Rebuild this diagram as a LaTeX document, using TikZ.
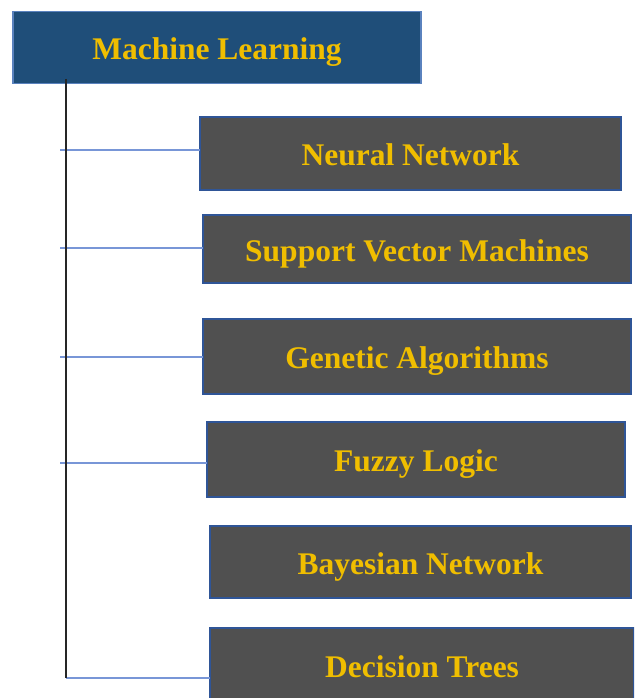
\documentclass[tikz,border=0pt]{standalone}
\usepackage{fontspec}
\setmainfont{Liberation Serif}
\definecolor{mlblue}{RGB}{31,78,121}
\definecolor{mledge}{RGB}{90,130,190}
\definecolor{boxgrey}{RGB}{80,80,80}
\definecolor{boxedge}{RGB}{47,85,151}
\definecolor{gold}{RGB}{240,190,0}
\definecolor{connblue}{RGB}{120,150,215}
\tikzset{
  lbl/.style={text=gold, font=\fontsize{31.5}{36}\selectfont\bfseries, inner sep=0pt, outer sep=0pt, text height=24pt, text depth=0pt},
  rootbox/.style={lbl, rectangle, fill=mlblue, draw=mledge, line width=1.2pt},
  leafbox/.style={lbl, rectangle, fill=boxgrey, draw=boxedge, line width=2.6pt},
  conn/.style={draw=connblue, line width=1.8pt},
  trunk/.style={draw=black!85, line width=1.6pt}
}
\begin{document}
\begin{tikzpicture}[x=1pt,y=-1pt]
\useasboundingbox (0,0) rectangle (634,698);
\clip (0,0) rectangle (634,698);
\fill[white] (0,0) rectangle (634,698);

\node[rootbox, minimum width=408pt, minimum height=72pt] (ml) at (217,47.5) {Machine Learning};

\node[leafbox, minimum width=421pt, minimum height=73pt] (nn) at (410.5,153.5) {Neural Network};
\node[leafbox, minimum width=428pt, minimum height=68pt] (svm) at (417,249) {Support Vector Machines};
\node[leafbox, minimum width=428pt, minimum height=75pt] (ga) at (417,356.5) {Genetic Algorithms};
\node[leafbox, minimum width=418pt, minimum height=75pt] (fl) at (416,459.5) {Fuzzy Logic};
\node[leafbox, minimum width=421pt, minimum height=72pt] (bn) at (420.5,562) {Bayesian Network};
\node[leafbox, minimum width=424pt, minimum height=74pt] (dt) at (422,665) {Decision Trees};

\coordinate (top) at (66,79);
\coordinate (bot) at (66,678);
\coordinate (j1) at (60,150);
\coordinate (j2) at (60,248);
\coordinate (j3) at (60,357);
\coordinate (j4) at (60,463);

\draw[conn] (j1) -- (nn.west |- j1);
\draw[conn] (j2) -- (svm.west |- j2);
\draw[conn] (j3) -- (ga.west |- j3);
\draw[conn] (j4) -- (fl.west |- j4);
\draw[conn] (bot) -- (dt.west |- bot);
\draw[trunk] (top) -- (bot);
\end{tikzpicture}
\end{document}
